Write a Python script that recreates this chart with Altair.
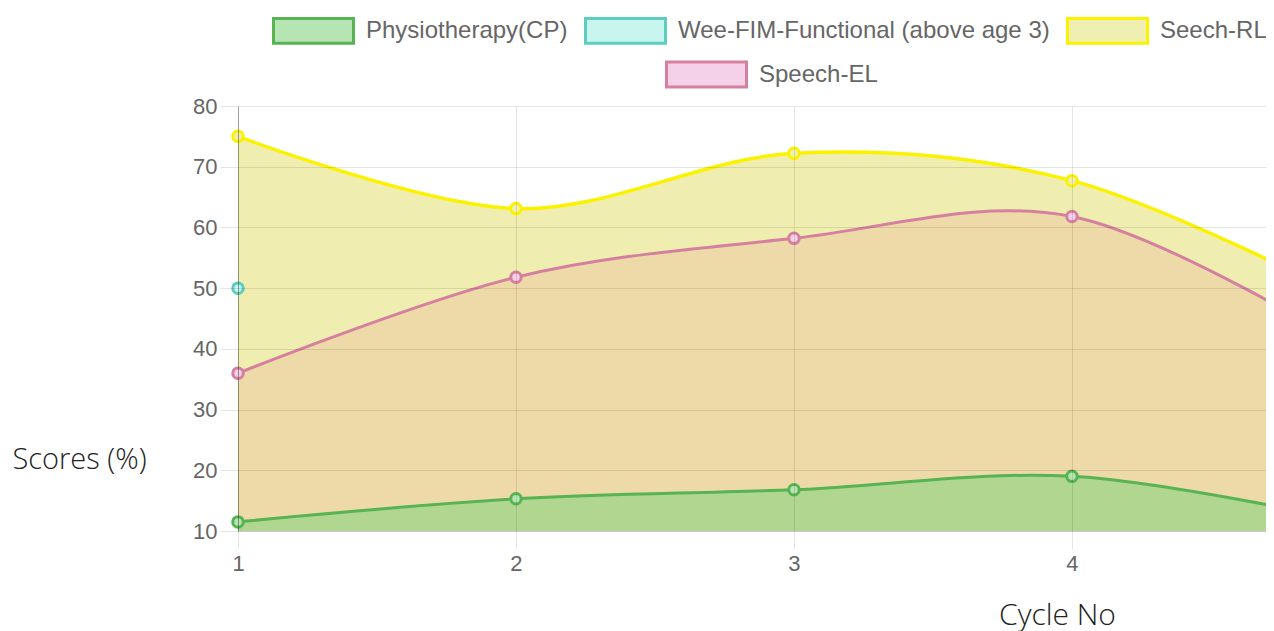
import altair as alt
import pandas as pd

# ---- data ----
cycles = [1, 2, 3, 4, 5]
physio = [11.5, 15.3, 16.8, 19.0, 11.6]
seech_rl = [75.0, 63.1, 72.2, 67.7, 48.1]
speech_el = [36.0, 51.8, 58.2, 61.8, 40.2]
weefim_cycles = [1]
weefim = [50.0]

series_names = ["Physiotherapy(CP)", "Wee-FIM-Functional (above age 3)", "Seech-RL", "Speech-EL"]
line_colors = ["#58b352", "#5ccdbf", "#fbf200", "#d6809f"]
box_fills = ["#b7e4b3", "#c9f5ef", "#f0efb2", "#f4d0e9"]
area_colors = {"Seech-RL": "#efeeb0", "Speech-EL": "#eddaa8", "Physiotherapy(CP)": "#b0d68f"}

rows = []
for name, xs, vals in [
    (series_names[0], cycles, physio),
    (series_names[1], weefim_cycles, weefim),
    (series_names[2], cycles, seech_rl),
    (series_names[3], cycles, speech_el),
]:
    for c, v in zip(xs, vals):
        rows.append({"series": name, "cycle": c, "score": v})
df = pd.DataFrame(rows)

RECT = "M-1,-0.31H1V0.31H-1Z"
LABEL_FONT = "Liberation Sans"
TITLE_FONT = "Open Sans"

x_enc = alt.X(
    "cycle:Q",
    scale=alt.Scale(domain=[1, 4.698], nice=False, zero=False),
    axis=alt.Axis(
        values=[1, 2, 3, 4], format="d", grid=True, gridColor="rgba(0,0,0,0.1)",
        tickSize=18, tickColor="rgba(0,0,0,0.1)", labelPadding=4, labelFlush=False,
        labelFont=LABEL_FONT, labelFontSize=22, labelColor="#666",
        domainColor="rgba(0,0,0,0.12)",
        title="Cycle No", titleFont=TITLE_FONT, titleFontSize=30, titleFontWeight=300,
        titleColor="#222", titleX=819, titleY=93, titleAlign="center",
        titleBaseline="alphabetic", zindex=1,
    ),
)
y_enc = alt.Y(
    "score:Q",
    scale=alt.Scale(domain=[10, 80], nice=False, zero=False),
    axis=alt.Axis(
        values=list(range(10, 81, 10)), grid=True, gridColor="rgba(0,0,0,0.1)",
        tickSize=18, tickColor="rgba(0,0,0,0.1)", labelPadding=3, labelFlush=False,
        labelFont=LABEL_FONT, labelFontSize=22, labelColor="#666",
        domainColor="rgba(0,0,0,0.3)",
        title="Scores (%)", titleFont=TITLE_FONT, titleFontSize=29, titleFontWeight=300,
        titleColor="#222", titleAngle=0, titleX=-159, titleY=362, titleAlign="center",
        titleBaseline="alphabetic", zindex=1,
    ),
)

base = alt.Chart(df)
layers = []

# filled areas (drawn top-most series first)
for name in ["Seech-RL", "Speech-EL", "Physiotherapy(CP)"]:
    layers.append(
        base.transform_filter(alt.datum.series == name)
        .mark_area(interpolate="cardinal", fill=area_colors[name], opacity=1)
        .encode(x=x_enc, y=y_enc, y2=alt.datum(10))
    )

# lines
for name in ["Speech-EL", "Seech-RL", "Physiotherapy(CP)"]:
    i = series_names.index(name)
    layers.append(
        base.transform_filter(alt.datum.series == name)
        .mark_line(interpolate="cardinal", color=line_colors[i],
                   strokeWidth=3.5 if name == "Seech-RL" else 3)
        .encode(x=x_enc, y=y_enc)
    )

# points
for name in ["Speech-EL", "Seech-RL", "Wee-FIM-Functional (above age 3)", "Physiotherapy(CP)"]:
    i = series_names.index(name)
    layers.append(
        base.transform_filter(alt.datum.series == name)
        .mark_circle(fill=box_fills[i], stroke=line_colors[i], strokeWidth=3, size=110, opacity=1)
        .encode(x=x_enc, y=y_enc)
    )

common_leg = dict(
    title=None, orient="none", padding=0, symbolSize=6400, symbolStrokeWidth=3,
    symbolType=RECT, direction="horizontal",
    labelFont=LABEL_FONT, labelFontSize=24, labelColor="#666", labelOffset=11,
    labelLimit=600, labelBaseline="middle",
)

# legend row 1 (first three series)
legA = alt.Legend(legendX=34, legendY=-116.7, columns=3, columnPadding=11, **common_leg)
layers.append(
    base.transform_filter("false")
    .mark_point(shape="circle", filled=True, opacity=1)
    .encode(
        x=x_enc, y=y_enc,
        fill=alt.Fill("series:N", scale=alt.Scale(domain=series_names[:3], range=box_fills[:3]), legend=legA),
        stroke=alt.Stroke("series:N", scale=alt.Scale(domain=series_names[:3], range=line_colors[:3]), legend=legA),
    )
)

# legend row 2 (Speech-EL)
legB = alt.Legend(legendX=427, legendY=-73, **common_leg)
layers.append(
    base.transform_filter("false")
    .mark_point(shape="circle", filled=True, opacity=1)
    .encode(
        x=x_enc, y=y_enc,
        fill=alt.Fill("series:N", scale=alt.Scale(domain=series_names[3:], range=box_fills[3:]), legend=legB),
        stroke=alt.Stroke("series:N", scale=alt.Scale(domain=series_names[3:], range=line_colors[3:]), legend=legB),
    )
)

chart = (
    alt.layer(*layers)
    .resolve_scale(fill="independent", stroke="independent")
    .properties(
        width=1028, height=425,
        padding={"left": 230, "top": 98, "right": 0, "bottom": 102},
        autosize=alt.AutoSizeParams(type="none"),
    )
    .configure_view(stroke=None)
)

chart.save("out.html", embed_options={"renderer": "svg", "actions": False})
